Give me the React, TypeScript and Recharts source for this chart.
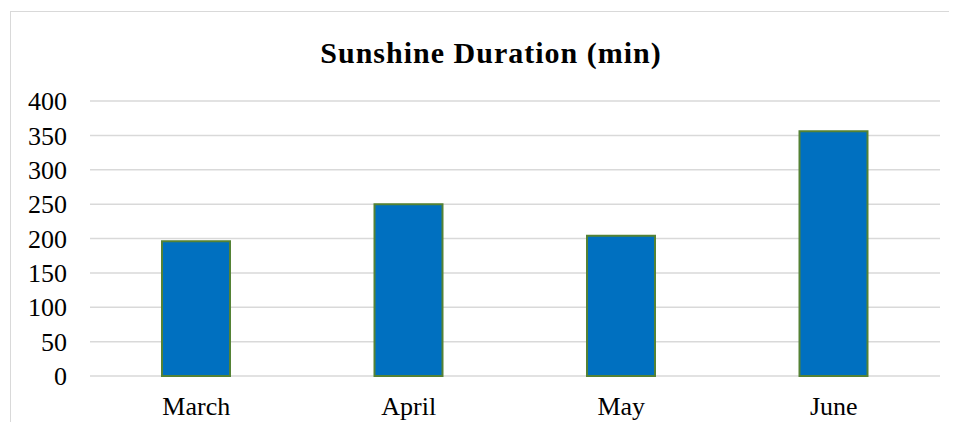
import { Bar, BarChart, CartesianGrid, XAxis, YAxis } from 'recharts';

const months = ['March', 'April', 'May', 'June'];
const sunshine = [196, 250, 204, 356];
const yTicks = [0, 50, 100, 150, 200, 250, 300, 350, 400];

const data = months.map((month, i) => ({ month, minutes: sunshine[i] }));

const font = '"Liberation Serif", "Times New Roman", serif';

export default function App() {
  return (
    <div style={{ position: 'relative', width: 957, height: 430, margin: -8, overflow: 'hidden', background: '#fff' }}>
      <div
        style={{
          position: 'absolute',
          left: 10,
          top: 11,
          width: 1000,
          height: 500,
          borderTop: '1px solid #d9d9d9',
          borderLeft: '1px solid #d9d9d9',
        }}
      />
      <div
        style={{
          position: 'absolute',
          left: 0,
          top: 38,
          width: 982,
          textAlign: 'center',
          fontFamily: font,
          fontWeight: 'bold',
          fontSize: 30,
          letterSpacing: 1,
          lineHeight: '30px',
          color: '#000',
        }}
      >
        Sunshine Duration (min)
      </div>
      <div style={{ position: 'absolute', left: 0, top: 0 }}>
        <BarChart width={957} height={430} data={data} margin={{ top: 101, right: 17, left: 0, bottom: 14 }}>
          <CartesianGrid vertical={false} stroke="#d9d9d9" strokeWidth={1.5} />
          <XAxis
            dataKey="month"
            axisLine={false}
            tickLine={false}
            tickMargin={15}
            height={40}
            tick={{ fill: '#000', fontSize: 26, fontFamily: font }}
          />
          <YAxis
            domain={[0, 400]}
            ticks={yTicks}
            axisLine={false}
            tickLine={false}
            tickMargin={17}
            width={90}
            interval={0}
            tick={{ fill: '#000', fontSize: 26, fontFamily: font }}
          />
          <Bar dataKey="minutes" fill="#0070C0" stroke="#548235" strokeWidth={2} barSize={68} isAnimationActive={false} />
        </BarChart>
      </div>
    </div>
  );
}
